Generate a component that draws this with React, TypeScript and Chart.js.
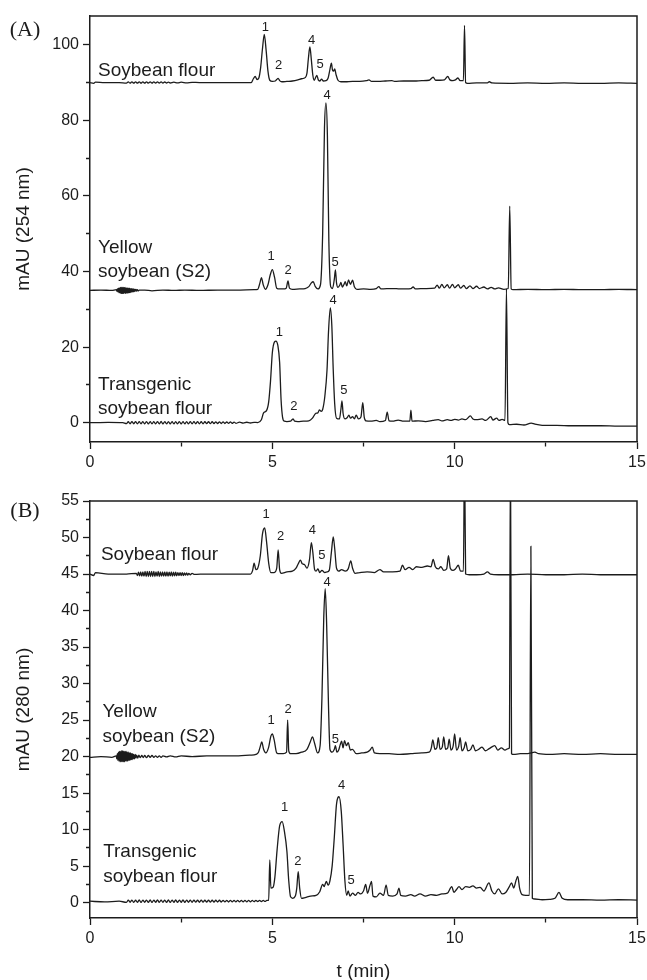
import React, { useEffect, useRef } from "react";
import { Chart, registerables } from "chart.js";

Chart.register(...registerables);

type Pt = [number, number];
type Lbl = { text: string; t: number; v: number };

// ---- axis ticks ----
const X_TICKS = [0, 2.5, 5, 7.5, 10, 12.5, 15];
const X_LABELED = [0, 5, 10, 15];
const A_Y_TICKS = [0, 10, 20, 30, 40, 50, 60, 70, 80, 90, 100];
const A_Y_LABELED = [0, 20, 40, 60, 80, 100];
const B_Y_TICKS = [0, 2.5, 5, 7.5, 10, 12.5, 15, 17.5, 20, 22.5, 25, 27.5, 30, 32.5, 35, 37.5, 40, 42.5, 45, 47.5, 50, 52.5, 55];
const B_Y_LABELED = [0, 5, 10, 15, 20, 25, 30, 35, 40, 45, 50, 55];

// ---- (A) 254 nm : Soybean flour ----
const A_SOY: Pt[] = [
  [0, 90.0], [0.1, 89.8], [0.15, 90.1], [0.4, 90.0], [0.8, 90.0],
  [1.0, 89.85], [1.05, 90.15], [1.1, 89.82], [1.15, 90.18], [1.2, 89.83], [1.25, 90.17], [1.3, 89.82], [1.35, 90.18],
  [1.4, 89.83], [1.45, 90.17], [1.5, 89.82], [1.55, 90.18], [1.6, 89.84], [1.65, 90.16], [1.7, 89.83], [1.75, 90.17],
  [1.8, 89.84], [1.85, 90.16], [1.9, 89.85], [1.95, 90.15], [2.0, 89.86], [2.05, 90.14], [2.1, 89.87], [2.15, 90.13],
  [2.2, 89.88], [2.3, 90.1], [2.4, 89.9], [2.5, 90.08], [2.65, 89.92], [2.8, 90.05],
  [3.0, 90.0], [3.5, 90.0], [4.0, 90.0], [4.42, 90.0], [4.48, 91.0], [4.53, 91.6], [4.58, 90.8],
  [4.63, 91.2], [4.68, 94.0], [4.73, 99.0], [4.78, 102.7], [4.83, 98.5], [4.88, 93.0], [4.93, 90.6], [5.0, 90.3],
  [5.08, 90.4], [5.12, 90.8], [5.16, 91.1], [5.2, 90.5], [5.26, 90.2], [5.4, 90.3], [5.55, 90.4], [5.7, 90.7],
  [5.8, 91.0], [5.9, 91.3], [5.95, 92.5], [5.99, 96.5], [6.03, 99.4], [6.07, 96.0], [6.11, 92.0], [6.15, 90.6],
  [6.19, 91.4], [6.22, 91.9], [6.26, 90.7], [6.3, 90.4], [6.35, 90.9], [6.4, 90.4], [6.47, 90.5], [6.53, 91.2],
  [6.58, 93.5], [6.62, 95.1], [6.65, 93.3], [6.68, 93.0], [6.71, 93.6], [6.75, 92.0], [6.8, 90.6], [6.88, 90.2],
  [7.0, 90.2], [7.2, 90.3], [7.4, 90.3], [7.58, 90.5], [7.65, 90.7], [7.72, 90.3], [7.9, 90.3], [8.1, 90.4],
  [8.28, 90.5], [8.35, 90.3], [8.6, 90.4], [8.9, 90.4], [9.1, 90.5], [9.3, 90.6], [9.41, 91.4], [9.48, 90.6],
  [9.6, 90.6], [9.72, 90.7], [9.81, 91.6], [9.87, 90.7], [9.95, 90.5], [10.02, 90.7], [10.09, 91.2], [10.15, 90.5],
  [10.24, 90.5], [10.27, 105.1], [10.3, 90.0], [10.35, 89.8], [10.6, 89.9], [10.9, 89.9], [10.95, 90.2], [11.02, 89.9],
  [11.5, 89.8], [12.0, 89.9], [12.5, 89.8], [13.0, 89.9], [13.5, 89.8], [14.0, 89.8], [14.5, 89.9], [15.0, 89.8],
];

// ---- (A) 254 nm : Yellow soybean (S2) ----
const A_YEL: Pt[] = [
  [0, 35.0], [0.3, 35.1], [0.6, 35.0],
  [0.72, 35.2], [0.735, 34.8], [0.75, 35.4], [0.765, 34.6], [0.78, 35.6], [0.795, 34.4], [0.81, 35.7], [0.825, 34.3],
  [0.84, 35.8], [0.855, 34.2], [0.87, 35.8], [0.885, 34.2], [0.9, 35.8], [0.915, 34.2], [0.93, 35.8], [0.945, 34.3],
  [0.96, 35.8], [0.975, 34.2], [0.99, 35.7], [1.005, 34.3], [1.02, 35.7], [1.035, 34.3], [1.05, 35.6], [1.065, 34.4],
  [1.08, 35.6], [1.095, 34.4], [1.11, 35.5], [1.125, 34.5], [1.14, 35.5], [1.155, 34.6], [1.17, 35.4], [1.185, 34.6],
  [1.2, 35.4], [1.215, 34.7], [1.23, 35.3], [1.245, 34.8], [1.26, 35.3], [1.28, 34.8], [1.3, 35.2], [1.32, 34.9],
  [1.35, 35.1], [1.5, 35.1], [1.7, 34.9], [2.0, 35.1],
  [2.3, 35.0], [2.6, 35.1], [3.0, 35.0], [3.5, 35.1], [4.0, 35.1], [4.5, 35.2], [4.6, 35.3], [4.66, 37.0],
  [4.7, 38.4], [4.75, 36.5], [4.81, 35.3], [4.88, 36.5], [4.94, 39.0], [5.0, 40.5], [5.06, 38.5], [5.12, 35.6],
  [5.2, 35.4], [5.3, 35.4], [5.38, 35.6], [5.43, 37.5], [5.47, 35.6], [5.55, 35.3], [5.75, 35.4], [5.9, 35.5],
  [6.0, 36.0], [6.07, 37.0], [6.12, 37.3], [6.18, 36.0], [6.25, 35.4], [6.32, 36.5], [6.38, 50.0], [6.43, 78.0],
  [6.47, 84.6], [6.51, 76.0], [6.55, 48.0], [6.6, 36.0], [6.65, 35.5], [6.7, 38.0], [6.73, 40.4], [6.76, 37.0],
  [6.8, 35.8], [6.85, 36.4], [6.88, 37.1], [6.92, 35.9], [6.96, 36.5], [7.0, 37.3], [7.04, 36.2], [7.09, 37.8],
  [7.14, 36.6], [7.2, 37.7], [7.25, 36.0], [7.32, 35.3], [7.5, 35.4], [7.7, 35.3], [7.85, 35.5], [7.92, 36.0],
  [7.98, 35.4], [8.3, 35.5], [8.5, 35.4], [8.8, 35.5], [8.86, 35.9], [8.92, 35.4], [9.2, 35.5], [9.45, 35.6],
  [9.52, 36.4], [9.58, 35.6], [9.65, 36.6], [9.71, 35.7], [9.8, 36.5], [9.86, 35.6], [9.94, 36.6], [10.0, 35.7],
  [10.1, 36.5], [10.16, 35.6], [10.25, 36.3], [10.32, 35.5], [10.42, 36.2], [10.5, 35.5], [10.6, 36.1], [10.68, 35.5],
  [10.8, 35.9], [10.9, 35.4], [11.0, 35.8], [11.1, 35.4], [11.2, 35.7], [11.35, 35.3], [11.47, 35.5], [11.51, 57.3],
  [11.55, 35.4], [11.6, 35.2], [12.0, 35.3], [12.5, 35.2], [13.0, 35.3], [13.5, 35.2], [14.0, 35.2], [14.5, 35.3],
  [15.0, 35.2],
];

// ---- (A) 254 nm : Transgenic soybean flour ----
const A_TRA: Pt[] = [
  [0, 0.0], [0.5, 0.1], [0.9, 0.0],
  [1.0, -0.25], [1.05, 0.28], [1.1, -0.27], [1.15, 0.3], [1.2, -0.28], [1.25, 0.3], [1.3, -0.3], [1.35, 0.29],
  [1.4, -0.28], [1.45, 0.31], [1.5, -0.3], [1.55, 0.3], [1.6, -0.31], [1.65, 0.3], [1.7, -0.29], [1.75, 0.31],
  [1.8, -0.3], [1.85, 0.3], [1.9, -0.3], [1.95, 0.32], [2.0, -0.31], [2.05, 0.3], [2.1, -0.3], [2.15, 0.31],
  [2.2, -0.32], [2.25, 0.3], [2.3, -0.3], [2.35, 0.31], [2.4, -0.3], [2.45, 0.3], [2.5, -0.31], [2.55, 0.3],
  [2.6, -0.3], [2.65, 0.31], [2.7, -0.3], [2.75, 0.3], [2.8, -0.3], [2.85, 0.29], [2.9, -0.28], [2.95, 0.3],
  [3.0, -0.29], [3.05, 0.28], [3.1, -0.27], [3.15, 0.28], [3.2, -0.26], [3.25, 0.27], [3.3, -0.26], [3.35, 0.26],
  [3.4, -0.24], [3.45, 0.25], [3.5, -0.23], [3.55, 0.24], [3.6, -0.22], [3.65, 0.22], [3.7, -0.2], [3.75, 0.21],
  [3.8, -0.19], [3.85, 0.2], [3.9, -0.17], [3.95, 0.18], [4.0, -0.15], [4.1, 0.15], [4.2, -0.12], [4.3, 0.12],
  [4.4, -0.08], [4.5, 0.1], [4.6, 0.05], [4.7, 0.8], [4.76, 2.6], [4.84, 3.2], [4.9, 5.5],
  [4.95, 11.0], [5.0, 18.5], [5.06, 21.4], [5.1, 21.6], [5.15, 20.5], [5.2, 16.0], [5.24, 6.0], [5.28, 1.5],
  [5.33, 0.4], [5.4, 0.3], [5.5, 0.4], [5.54, 0.8], [5.57, 1.0], [5.61, 0.4], [5.7, 0.3], [5.85, 0.4],
  [6.0, 0.5], [6.1, 1.2], [6.19, 2.5], [6.25, 2.6], [6.29, 3.4], [6.34, 3.0], [6.38, 3.5], [6.44, 7.0],
  [6.5, 14.0], [6.54, 24.0], [6.59, 30.4], [6.63, 26.0], [6.67, 14.0], [6.71, 5.0], [6.76, 1.2], [6.84, 1.0],
  [6.88, 3.5], [6.91, 5.8], [6.94, 2.5], [6.99, 1.0], [7.05, 1.3], [7.1, 2.0], [7.14, 1.2], [7.2, 1.6],
  [7.25, 1.0], [7.3, 2.0], [7.36, 1.0], [7.43, 1.5], [7.48, 5.3], [7.52, 1.5], [7.57, 0.5], [7.7, 0.4],
  [7.85, 0.6], [7.95, 0.3], [8.1, 0.6], [8.15, 2.8], [8.2, 0.5], [8.3, 0.4], [8.45, 0.7], [8.6, 0.4],
  [8.77, 0.4], [8.8, 3.3], [8.83, 0.4], [9.0, 0.5], [9.2, 0.3], [9.4, 0.6], [9.55, 0.8], [9.65, 0.5],
  [9.8, 0.8], [9.9, 0.6], [10.0, 0.9], [10.1, 0.7], [10.2, 1.0], [10.3, 0.8], [10.43, 1.8], [10.5, 1.0],
  [10.6, 0.8], [10.75, 1.0], [10.85, 0.6], [10.99, 1.6], [11.05, 0.7], [11.15, 1.2], [11.22, 0.6], [11.3, 0.9],
  [11.38, 0.6], [11.42, 35.5], [11.46, 0.0], [11.5, -0.5], [11.7, -0.4], [11.9, -0.6], [12.1, -0.1], [12.2, -0.4],
  [12.4, -0.7], [12.8, -0.7], [13.2, -0.8], [13.6, -0.8], [14.0, -0.8], [14.5, -0.9], [15.0, -0.9],
];

// ---- (B) 280 nm : Soybean flour ----
const B_SOY: Pt[] = [
  [0, 45.0], [0.1, 44.8], [0.15, 45.2], [0.5, 45.0], [1.0, 45.0],
  [1.27, 45.1], [1.3, 44.8], [1.33, 45.25], [1.36, 44.75], [1.39, 45.3], [1.42, 44.7], [1.45, 45.3], [1.48, 44.7],
  [1.51, 45.35], [1.54, 44.65], [1.57, 45.35], [1.6, 44.65], [1.63, 45.35], [1.66, 44.65], [1.69, 45.35], [1.72, 44.65],
  [1.75, 45.35], [1.78, 44.65], [1.81, 45.3], [1.84, 44.7], [1.87, 45.35], [1.9, 44.65], [1.93, 45.3], [1.96, 44.7],
  [1.99, 45.3], [2.02, 44.7], [2.05, 45.3], [2.08, 44.7], [2.11, 45.3], [2.14, 44.7], [2.17, 45.25], [2.2, 44.75],
  [2.23, 45.3], [2.26, 44.7], [2.29, 45.25], [2.32, 44.75], [2.35, 45.25], [2.38, 44.75], [2.41, 45.2], [2.44, 44.8],
  [2.47, 45.2], [2.5, 44.8], [2.53, 45.2], [2.56, 44.8], [2.59, 45.15], [2.62, 44.85], [2.65, 45.15], [2.68, 44.85],
  [2.71, 45.1], [2.75, 44.9], [2.8, 45.1], [2.85, 44.95],
  [3.2, 45.0], [3.8, 45.0], [4.4, 45.0], [4.46, 45.5], [4.5, 46.5],
  [4.55, 45.6], [4.6, 45.8], [4.67, 47.5], [4.73, 50.5], [4.79, 51.3], [4.84, 49.5], [4.9, 46.5], [4.96, 45.2],
  [5.05, 45.2], [5.12, 45.8], [5.16, 48.3], [5.2, 45.6], [5.25, 45.1], [5.4, 45.3], [5.55, 45.4], [5.65, 45.8],
  [5.72, 46.5], [5.77, 46.9], [5.82, 46.4], [5.88, 46.3], [5.95, 45.8], [6.02, 47.0], [6.07, 49.3], [6.11, 48.0],
  [6.16, 45.6], [6.2, 45.4], [6.25, 45.7], [6.3, 45.2], [6.36, 45.5], [6.44, 45.2], [6.5, 45.3], [6.56, 45.5],
  [6.62, 48.0], [6.67, 50.1], [6.71, 48.5], [6.76, 45.8], [6.82, 45.4], [6.9, 45.6], [7.0, 45.4], [7.08, 45.7],
  [7.15, 46.8], [7.2, 45.8], [7.27, 45.1], [7.4, 45.2], [7.6, 45.3], [7.8, 45.2], [7.95, 45.6], [8.05, 45.3],
  [8.3, 45.3], [8.5, 45.4], [8.57, 46.2], [8.64, 45.6], [8.75, 45.9], [8.85, 45.6], [8.95, 46.0], [9.1, 45.9],
  [9.25, 46.1], [9.35, 46.0], [9.41, 47.0], [9.47, 46.0], [9.55, 45.7], [9.62, 46.0], [9.7, 45.5], [9.78, 45.7],
  [9.83, 47.5], [9.88, 45.8], [9.95, 45.5], [10.02, 45.7], [10.1, 46.2], [10.16, 45.4], [10.24, 45.4], [10.27, 62.0],
  [10.3, 45.0], [10.4, 44.9], [10.6, 44.9], [10.8, 45.0], [10.9, 45.3], [10.98, 45.0], [11.2, 44.9], [11.6, 44.9],
  [12.0, 45.0], [12.5, 44.9], [13.0, 44.9], [13.5, 45.0], [14.0, 44.9], [14.5, 44.9], [15.0, 44.9],
];

// ---- (B) 280 nm : Yellow soybean (S2) ----
const B_YEL: Pt[] = [
  [0, 19.9], [0.3, 20.0], [0.6, 19.9],
  [0.72, 20.1], [0.735, 19.7], [0.75, 20.4], [0.765, 19.5], [0.78, 20.6], [0.795, 19.4], [0.81, 20.7], [0.825, 19.3],
  [0.84, 20.7], [0.855, 19.3], [0.87, 20.8], [0.885, 19.3], [0.9, 20.8], [0.915, 19.3], [0.93, 20.7], [0.945, 19.3],
  [0.96, 20.7], [0.975, 19.4], [0.99, 20.7], [1.005, 19.4], [1.02, 20.6], [1.035, 19.4], [1.05, 20.6], [1.065, 19.5],
  [1.08, 20.5], [1.095, 19.5], [1.11, 20.5], [1.125, 19.6], [1.14, 20.4], [1.155, 19.6], [1.17, 20.4], [1.185, 19.7],
  [1.2, 20.3], [1.22, 19.7], [1.24, 20.3], [1.26, 19.8], [1.28, 20.2], [1.31, 19.8], [1.34, 20.2], [1.38, 19.85],
  [1.42, 20.15], [1.46, 19.85], [1.5, 20.15], [1.55, 19.85], [1.6, 20.15], [1.65, 19.9], [1.7, 20.15], [1.75, 19.9],
  [1.8, 20.1], [1.85, 19.9], [1.9, 20.1], [1.95, 19.9], [2.0, 20.1], [2.1, 19.95], [2.2, 20.1], [2.35, 19.95],
  [2.5, 20.1], [2.8, 20.0], [3.2, 20.1], [3.6, 20.1], [4.0, 20.1], [4.4, 20.2], [4.55, 20.3], [4.62, 20.6], [4.67, 21.4],
  [4.71, 22.0], [4.76, 21.0], [4.82, 20.5], [4.9, 21.3], [4.96, 22.8], [5.0, 23.1], [5.05, 22.3], [5.12, 20.5],
  [5.2, 20.4], [5.3, 20.4], [5.39, 20.6], [5.42, 25.0], [5.45, 20.8], [5.5, 20.4], [5.65, 20.4], [5.8, 20.6],
  [5.95, 21.0], [6.04, 22.0], [6.1, 22.7], [6.16, 21.8], [6.24, 20.5], [6.31, 21.5], [6.36, 28.0], [6.41, 39.0],
  [6.45, 43.0], [6.49, 38.0], [6.54, 27.0], [6.58, 21.0], [6.64, 20.6], [6.7, 21.0], [6.73, 21.5], [6.77, 20.6],
  [6.82, 20.9], [6.86, 21.6], [6.9, 22.1], [6.94, 21.2], [6.98, 22.2], [7.03, 21.5], [7.08, 21.9], [7.14, 20.9],
  [7.2, 21.0], [7.3, 20.4], [7.45, 20.5], [7.6, 20.6], [7.68, 20.9], [7.74, 21.3], [7.8, 20.5], [7.95, 20.4],
  [8.2, 20.4], [8.5, 20.3], [8.8, 20.4], [9.1, 20.5], [9.3, 20.6], [9.36, 21.2], [9.4, 22.3], [9.46, 21.0],
  [9.51, 21.2], [9.55, 22.6], [9.6, 21.0], [9.66, 21.3], [9.7, 22.7], [9.75, 21.0], [9.81, 21.2], [9.85, 22.4],
  [9.9, 20.9], [9.96, 21.5], [10.0, 23.1], [10.05, 20.9], [10.11, 21.4], [10.15, 22.6], [10.2, 20.8], [10.26, 21.2],
  [10.3, 22.0], [10.36, 20.8], [10.44, 21.0], [10.5, 21.6], [10.57, 20.8], [10.66, 21.0], [10.75, 21.3], [10.84, 20.8],
  [10.95, 21.1], [11.1, 21.5], [11.18, 20.9], [11.28, 21.2], [11.38, 20.9], [11.47, 21.1], [11.5, 21.2], [11.53, 62.0],
  [11.56, 20.4], [11.62, 20.3], [11.8, 20.4], [12.0, 20.4], [12.2, 20.6], [12.3, 20.4], [12.6, 20.3], [13.0, 20.4],
  [13.5, 20.3], [14.0, 20.4], [14.5, 20.3], [15.0, 20.3],
];

// ---- (B) 280 nm : Transgenic soybean flour ----
const B_TRA: Pt[] = [
  [0, 0.2], [0.4, 0.1], [0.8, 0.2],
  [1.0, 0.05], [1.05, 0.35], [1.1, 0.06], [1.15, 0.36], [1.2, 0.04], [1.25, 0.34], [1.3, 0.05], [1.35, 0.37],
  [1.4, 0.03], [1.45, 0.35], [1.5, 0.06], [1.55, 0.36], [1.6, 0.04], [1.65, 0.38], [1.7, 0.03], [1.75, 0.36],
  [1.8, 0.05], [1.85, 0.37], [1.9, 0.04], [1.95, 0.35], [2.0, 0.05], [2.05, 0.36], [2.1, 0.04], [2.15, 0.37],
  [2.2, 0.03], [2.25, 0.36], [2.3, 0.05], [2.35, 0.38], [2.4, 0.04], [2.45, 0.36], [2.5, 0.05], [2.55, 0.37],
  [2.6, 0.04], [2.65, 0.36], [2.7, 0.06], [2.75, 0.35], [2.8, 0.05], [2.85, 0.36], [2.9, 0.07], [2.95, 0.34],
  [3.0, 0.06], [3.05, 0.35], [3.1, 0.07], [3.15, 0.34], [3.2, 0.08], [3.25, 0.33], [3.3, 0.07], [3.35, 0.34],
  [3.4, 0.08], [3.45, 0.33], [3.5, 0.09], [3.55, 0.33], [3.6, 0.08], [3.65, 0.32], [3.7, 0.1], [3.75, 0.32],
  [3.8, 0.09], [3.85, 0.31], [3.9, 0.1], [3.95, 0.32], [4.0, 0.11], [4.05, 0.31], [4.1, 0.1], [4.15, 0.3],
  [4.2, 0.12], [4.25, 0.31], [4.3, 0.11], [4.35, 0.3], [4.4, 0.12], [4.45, 0.3], [4.5, 0.13], [4.55, 0.31],
  [4.6, 0.14], [4.65, 0.3], [4.7, 0.15], [4.75, 0.3], [4.8, 0.17], [4.85, 0.3], [4.9, 0.3],
  [4.93, 5.85], [4.96, 2.0], [5.02, 2.1], [5.07, 3.5], [5.13, 7.2], [5.2, 10.5], [5.27, 11.1], [5.33, 9.8],
  [5.4, 7.0], [5.45, 3.0], [5.5, 0.8], [5.56, 0.6], [5.63, 0.9], [5.67, 2.0], [5.71, 4.25], [5.75, 2.0],
  [5.8, 0.6], [5.9, 0.7], [6.05, 0.9], [6.2, 1.0], [6.3, 1.5], [6.38, 2.5], [6.42, 2.2], [6.48, 2.9],
  [6.53, 2.4], [6.58, 3.0], [6.64, 5.0], [6.7, 9.0], [6.76, 13.5], [6.83, 14.5], [6.89, 12.5], [6.94, 8.0],
  [6.99, 3.0], [7.04, 1.0], [7.08, 1.6], [7.13, 0.9], [7.2, 1.3], [7.28, 1.0], [7.35, 1.4], [7.42, 1.2],
  [7.5, 1.6], [7.56, 2.5], [7.61, 1.3], [7.68, 2.4], [7.72, 2.9], [7.76, 0.9], [7.85, 0.8], [7.95, 1.3],
  [8.05, 1.0], [8.12, 2.4], [8.18, 1.0], [8.3, 0.9], [8.42, 1.2], [8.47, 2.0], [8.52, 1.0], [8.65, 0.9],
  [8.8, 1.1], [8.9, 0.9], [9.05, 1.2], [9.2, 0.9], [9.35, 1.1], [9.5, 1.0], [9.65, 1.2], [9.8, 1.3],
  [9.92, 2.2], [9.98, 1.4], [10.05, 1.8], [10.12, 2.2], [10.2, 1.8], [10.3, 2.2], [10.4, 2.1], [10.5, 2.3],
  [10.6, 2.0], [10.7, 2.1], [10.8, 1.6], [10.94, 2.7], [11.02, 1.6], [11.1, 1.2], [11.2, 1.9], [11.3, 1.2],
  [11.4, 1.4], [11.5, 2.2], [11.56, 2.7], [11.62, 2.0], [11.68, 3.0], [11.73, 3.6], [11.78, 2.0], [11.85, 1.1],
  [11.95, 1.0], [12.05, 1.0], [12.09, 48.8], [12.13, 0.6], [12.2, 0.5], [12.4, 0.4], [12.6, 0.45], [12.75, 0.6],
  [12.86, 1.4], [12.95, 0.6], [13.1, 0.4], [13.5, 0.4], [14.0, 0.35], [14.5, 0.4], [15.0, 0.35],
];

// ---- annotations (data coordinates) ----
const A_NAMES: Lbl[] = [
  { text: "Soybean flour", t: 0.22, v: 93.2 },
  { text: "Yellow", t: 0.22, v: 46.4 },
  { text: "soybean (S2)", t: 0.22, v: 39.9 },
  { text: "Transgenic", t: 0.22, v: 10.0 },
  { text: "soybean flour", t: 0.22, v: 3.8 },
];
const A_PEAKS: Lbl[] = [
  { text: "1", t: 4.81, v: 104.7 }, { text: "2", t: 5.17, v: 94.5 }, { text: "4", t: 6.08, v: 101.1 }, { text: "5", t: 6.31, v: 94.8 },
  { text: "4", t: 6.5, v: 86.6 }, { text: "1", t: 4.97, v: 44.1 }, { text: "2", t: 5.43, v: 40.4 }, { text: "5", t: 6.72, v: 42.5 },
  { text: "1", t: 5.19, v: 24.0 }, { text: "4", t: 6.67, v: 32.4 }, { text: "2", t: 5.59, v: 4.2 }, { text: "5", t: 6.96, v: 8.6 },
];
const B_NAMES: Lbl[] = [
  { text: "Soybean flour", t: 0.3, v: 47.6 },
  { text: "Yellow", t: 0.34, v: 26.2 },
  { text: "soybean (S2)", t: 0.34, v: 22.7 },
  { text: "Transgenic", t: 0.36, v: 7.0 },
  { text: "soybean flour", t: 0.36, v: 3.6 },
];
const B_PEAKS: Lbl[] = [
  { text: "1", t: 4.83, v: 53.1 }, { text: "2", t: 5.23, v: 50.1 }, { text: "4", t: 6.1, v: 51.0 }, { text: "5", t: 6.36, v: 47.6 },
  { text: "4", t: 6.5, v: 43.8 }, { text: "1", t: 4.97, v: 25.0 }, { text: "2", t: 5.43, v: 26.4 }, { text: "5", t: 6.73, v: 22.4 },
  { text: "1", t: 5.34, v: 13.1 }, { text: "2", t: 5.7, v: 5.6 }, { text: "4", t: 6.9, v: 16.1 }, { text: "5", t: 7.16, v: 3.1 },
];

const SANS = "'Liberation Sans', Arial, Helvetica, sans-serif";
const SERIF = "'Liberation Serif', 'Times New Roman', serif";
const INK = "#1c1c1c";

const isIn = (arr: number[], v: any) => typeof v === "number" && arr.some((a) => Math.abs(a - v) < 1e-6);

type PanelCfg = {
  tag: string;
  tagY: number;
  padTop: number;
  xAxisHeight: number;
  yMin: number;
  yMax: number;
  yTicks: number[];
  yLabeled: number[];
  yTitle: string;
  xTitle: string | null;
  series: Pt[][];
  names: Lbl[];
  peaks: Lbl[];
};

const PANEL_A: PanelCfg = {
  tag: "(A)", tagY: 30, padTop: 16, xAxisHeight: 36, yMin: -5.1, yMax: 107.6,
  yTicks: A_Y_TICKS, yLabeled: A_Y_LABELED, yTitle: "mAU (254 nm)", xTitle: null,
  series: [A_SOY, A_YEL, A_TRA], names: A_NAMES, peaks: A_PEAKS,
};
const PANEL_B: PanelCfg = {
  tag: "(B)", tagY: 31, padTop: 21, xAxisHeight: 62, yMin: -2.1, yMax: 55,
  yTicks: B_Y_TICKS, yLabeled: B_Y_LABELED, yTitle: "mAU (280 nm)", xTitle: "t (min)",
  series: [B_SOY, B_YEL, B_TRA], names: B_NAMES, peaks: B_PEAKS,
};

function buildChart(canvas: HTMLCanvasElement, p: PanelCfg) {
  const overlay = {
    id: "overlay",
    afterDraw(chart: any) {
      const { ctx, chartArea, scales } = chart;
      const xs = scales.x;
      const ys = scales.y;
      ctx.save();
      ctx.strokeStyle = INK;
      ctx.lineWidth = 1.5;
      ctx.beginPath();
      ctx.moveTo(chartArea.left, chartArea.top);
      ctx.lineTo(chartArea.right, chartArea.top);
      ctx.lineTo(chartArea.right, chartArea.bottom);
      ctx.stroke();
      ctx.fillStyle = INK;
      ctx.textBaseline = "middle";
      ctx.textAlign = "left";
      ctx.font = `19px ${SANS}`;
      for (const n of p.names) ctx.fillText(n.text, xs.getPixelForValue(n.t), ys.getPixelForValue(n.v));
      ctx.textAlign = "center";
      ctx.font = `13px ${SANS}`;
      for (const k of p.peaks) ctx.fillText(k.text, xs.getPixelForValue(k.t), ys.getPixelForValue(k.v));
      ctx.font = `22px ${SERIF}`;
      ctx.fillText(p.tag, 25, p.tagY);
      ctx.restore();
    },
  };

  return new Chart(canvas, {
    type: "line",
    data: {
      datasets: p.series.map((s) => ({
        data: s.map(([x, y]) => ({ x, y })),
        borderColor: INK,
        borderWidth: 1.3,
        pointRadius: 0,
        fill: false,
        cubicInterpolationMode: "monotone" as const,
      })),
    },
    options: {
      animation: false,
      responsive: false,
      events: [],
      layout: { padding: { top: p.padTop, right: 10, left: 0, bottom: 0 } },
      plugins: { legend: { display: false }, tooltip: { enabled: false } },
      scales: {
        x: {
          type: "linear",
          position: "bottom",
          min: 0,
          max: 15,
          afterBuildTicks: (s: any) => {
            s.ticks = X_TICKS.map((v) => ({ value: v }));
          },
          afterFit: (s: any) => {
            s.height = p.xAxisHeight;
            s.paddingLeft = 0;
            s.paddingRight = 0;
          },
          ticks: {
            autoSkip: false,
            maxRotation: 0,
            padding: 4,
            color: INK,
            font: { family: SANS, size: 16 },
            callback: (v: any) => (isIn(X_LABELED, v) ? String(v) : ""),
          },
          grid: {
            drawOnChartArea: false,
            drawTicks: true,
            tickLength: 7,
            tickColor: INK,
            tickWidth: 1.3,
            tickBorderDash: (c: any) => (isIn(X_LABELED, c.tick && c.tick.value) ? [] : [4, 50]),
          },
          border: { color: INK, width: 1.5 },
          title: p.xTitle
            ? { display: true, text: p.xTitle, color: INK, font: { family: SANS, size: 19, lineHeight: 0.9 }, padding: { top: 0, bottom: 0 } }
            : { display: false },
        },
        y: {
          type: "linear",
          position: "left",
          min: p.yMin,
          max: p.yMax,
          afterBuildTicks: (s: any) => {
            s.ticks = p.yTicks.map((v) => ({ value: v }));
          },
          afterFit: (s: any) => {
            s.width = 90;
            s.paddingTop = 0;
            s.paddingBottom = 0;
          },
          ticks: {
            autoSkip: false,
            padding: 4,
            color: INK,
            font: { family: SANS, size: 16 },
            callback: (v: any) => (isIn(p.yLabeled, v) ? String(v) : ""),
          },
          grid: {
            drawOnChartArea: false,
            drawTicks: true,
            tickLength: 7,
            tickColor: INK,
            tickWidth: 1.3,
            tickBorderDash: (c: any) => (isIn(p.yLabeled, c.tick && c.tick.value) ? [] : [0, 3, 4, 50]),
          },
          border: { color: INK, width: 1.5 },
          title: {
            display: true,
            text: p.yTitle,
            color: INK,
            font: { family: SANS, size: 19 },
            padding: { top: 12.6, bottom: 0 },
          },
        },
      },
    } as any,
    plugins: [overlay],
  });
}

export default function App() {
  const refA = useRef<HTMLCanvasElement>(null);
  const refB = useRef<HTMLCanvasElement>(null);

  useEffect(() => {
    const a = buildChart(refA.current as HTMLCanvasElement, PANEL_A);
    const b = buildChart(refB.current as HTMLCanvasElement, PANEL_B);
    return () => {
      a.destroy();
      b.destroy();
    };
  }, []);

  return (
    <div style={{ position: "absolute", left: 0, top: 0, width: 647, height: 980, background: "#fff" }}>
      <canvas ref={refA} width={647} height={478} style={{ position: "absolute", left: 0, top: 0 }} />
      <canvas ref={refB} width={647} height={500} style={{ position: "absolute", left: 0, top: 480 }} />
    </div>
  );
}
